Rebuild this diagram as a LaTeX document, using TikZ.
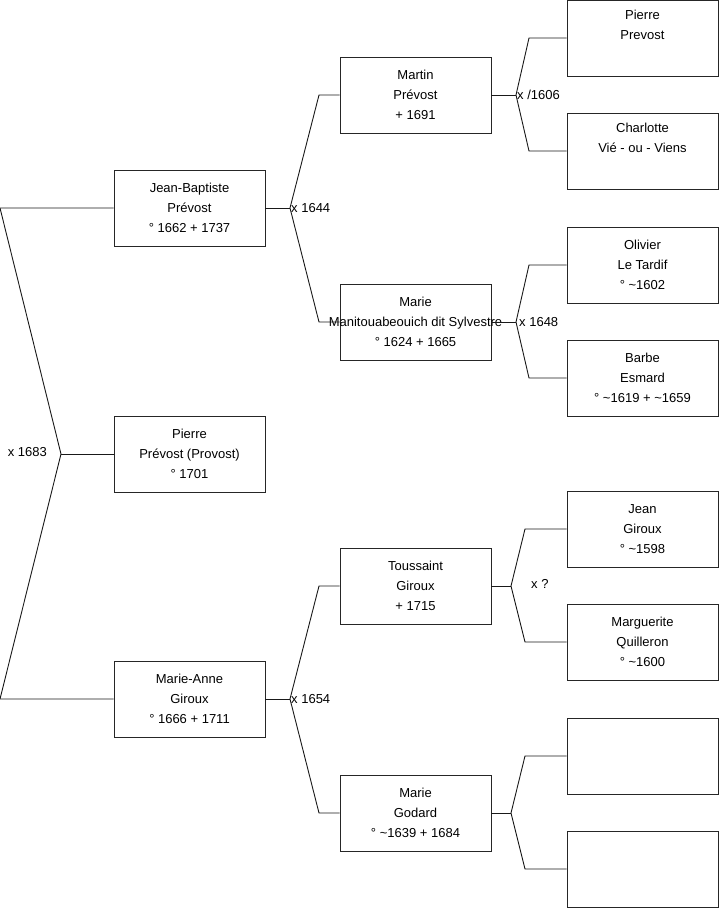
\documentclass[tikz,border=0pt]{standalone}
\usepackage{fontspec}
\setmainfont{Liberation Sans}
\usepackage{tikz}

\begin{document}
\begin{tikzpicture}[
    x=1pt, y=-1pt,
    font=\fontsize{13}{20}\selectfont,
    person/.style={draw=black!85, line width=0.9pt, minimum width=151pt, minimum height=76pt, inner sep=0pt, align=center},
    link/.style={draw=black!90, line width=0.9pt},
    wed/.style={anchor=west, inner sep=1pt},
]
\useasboundingbox (0,0) rectangle (719,908);

% --- Enfant (gauche) et ses parents ---
\node[person] (jb)        at (189.5,208) {Jean-Baptiste \\ Prévost \\ ° 1662 + 1737};
\node[person] (pierre)    at (189.5,454) {Pierre \\ Prévost (Provost) \\ ° 1701};
\node[person] (marieanne) at (189.5,699) {Marie-Anne \\ Giroux \\ ° 1666 + 1711};

% --- Grands-parents ---
\node[person] (martin)    at (415.5,95)  {Martin \\ Prévost \\ + 1691};
\node[person] (mariem)    at (415.5,322) {Marie \\ \makebox[0pt]{Manitouabeouich dit Sylvestre} \\ ° 1624 + 1665};
\node[person] (toussaint) at (415.5,586) {Toussaint \\ Giroux \\ + 1715};
\node[person] (godard)    at (415.5,813) {Marie \\ Godard \\ ° \textasciitilde1639 + 1684};

% --- Arrière-grands-parents ---
\node[person] (pprevost)   at (642.5,38)  {Pierre \\ Prevost \\ \strut};
\node[person] (charlotte)  at (642.5,151) {Charlotte \\ Vié - ou - Viens \\ \strut};
\node[person] (olivier)    at (642.5,265) {Olivier \\ Le Tardif \\ ° \textasciitilde1602};
\node[person] (barbe)      at (642.5,378) {Barbe \\ Esmard \\ ° \textasciitilde1619 + \textasciitilde1659};
\node[person] (jean)       at (642.5,529) {Jean \\ Giroux \\ ° \textasciitilde1598};
\node[person] (marguerite) at (642.5,642) {Marguerite \\ Quilleron \\ ° \textasciitilde1600};
\node[person] (inconnu1)   at (642.5,756) {};
\node[person] (inconnu2)   at (642.5,869) {};

% --- Union x 1683 ---
\coordinate (u0)  at (61,454);
\coordinate (u0a) at (0,208);
\coordinate (u0b) at (0,699);
\draw[link] (pierre.west) -- (u0);
\draw[link] (jb.west) -- (u0a) -- (u0) -- (u0b) -- (marieanne.west);
\node[anchor=east, inner sep=1pt] (w0) at (48,452) {x 1683};

% --- Union x 1644 ---
\coordinate (u1)  at (290,208);
\coordinate (u1a) at (319,95);
\coordinate (u1b) at (319,322);
\draw[link] (jb.east) -- (u1);
\draw[link] (martin.west) -- (u1a) -- (u1) -- (u1b) -- (mariem.west);
\node[wed] (w1) at (u1) {x 1644};

% --- Union x 1654 ---
\coordinate (u4)  at (290,699);
\coordinate (u4a) at (319,586);
\coordinate (u4b) at (319,813);
\draw[link] (marieanne.east) -- (u4);
\draw[link] (toussaint.west) -- (u4a) -- (u4) -- (u4b) -- (godard.west);
\node[wed] (w4) at (u4) {x 1654};

% --- Union x /1606 ---
\coordinate (u2)  at (516,95);
\coordinate (u2a) at (529,38);
\coordinate (u2b) at (529,151);
\draw[link] (martin.east) -- (u2);
\draw[link] (pprevost.west) -- (u2a) -- (u2) -- (u2b) -- (charlotte.west);
\node[wed] (w2) at (u2) {x /1606};

% --- Union x 1648 ---
\coordinate (u3)  at (516,322);
\coordinate (u3a) at (529,265);
\coordinate (u3b) at (529,378);
\draw[link] (mariem.east) -- (u3);
\draw[link] (olivier.west) -- (u3a) -- (u3) -- (u3b) -- (barbe.west);
\node[wed] (w3) at (518,322) {x 1648};

% --- Union x ? ---
\coordinate (u5)  at (511,586);
\coordinate (u5a) at (525,529);
\coordinate (u5b) at (525,642);
\draw[link] (toussaint.east) -- (u5);
\draw[link] (jean.west) -- (u5a) -- (u5) -- (u5b) -- (marguerite.west);
\node[wed] (w5) at (530,584) {x ?};

% --- Union sans date ---
\coordinate (u6)  at (511,813);
\coordinate (u6a) at (525,756);
\coordinate (u6b) at (525,869);
\draw[link] (godard.east) -- (u6);
\draw[link] (inconnu1.west) -- (u6a) -- (u6) -- (u6b) -- (inconnu2.west);

\end{tikzpicture}
\end{document}
